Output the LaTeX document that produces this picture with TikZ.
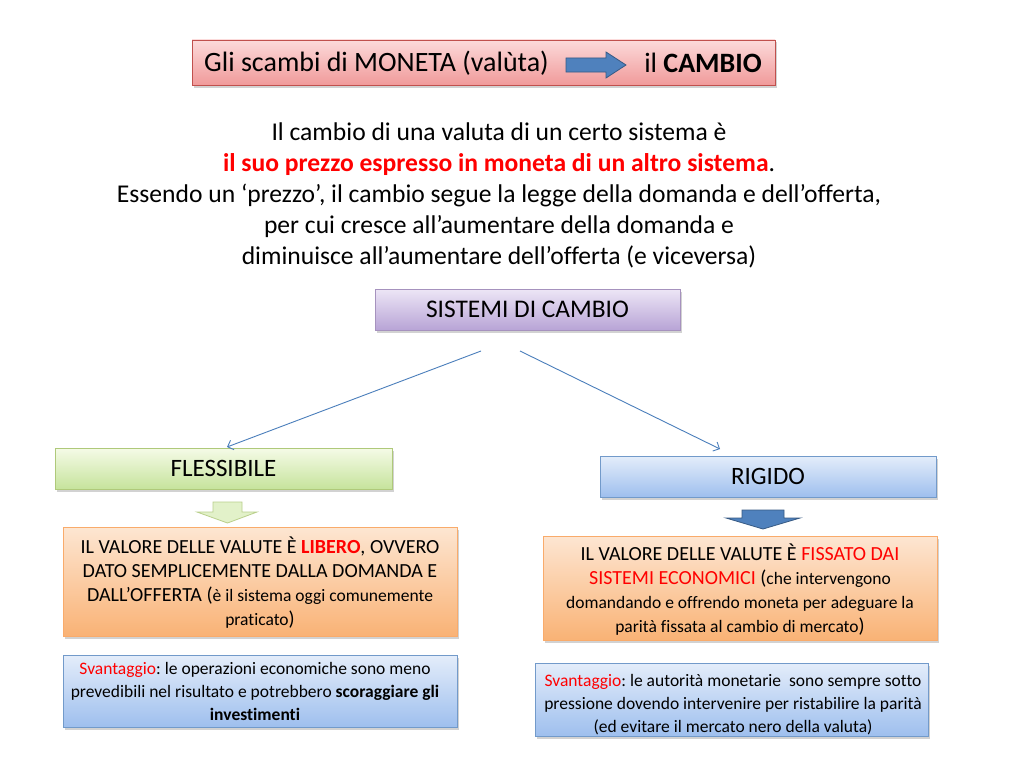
\documentclass[tikz,border=0pt]{standalone}
\usepackage{fontspec}
\setmainfont{Carlito}[Ligatures=NoCommon]
\frenchspacing
\usetikzlibrary{shadows,arrows.meta}
\definecolor{redtxt}{HTML}{FF0000}
\definecolor{pinkT}{HTML}{FCDADA}
\definecolor{pinkB}{HTML}{F09A9A}
\definecolor{pinkD}{HTML}{C0504D}
\definecolor{purT}{HTML}{EDE6F6}
\definecolor{purB}{HTML}{B8A4D6}
\definecolor{purD}{HTML}{8064A2}
\definecolor{grnT}{HTML}{F5FBE7}
\definecolor{grnB}{HTML}{C6E39C}
\definecolor{grnD}{HTML}{9BBB59}
\definecolor{bluT}{HTML}{E4EDFA}
\definecolor{bluB}{HTML}{9EBFEE}
\definecolor{bluD}{HTML}{4F81BD}
\definecolor{orgT}{HTML}{FDE6D2}
\definecolor{orgB}{HTML}{F9B275}
\definecolor{orgD}{HTML}{F79646}
\definecolor{lineC}{HTML}{4A7EBB}
\tikzset{
  box/.style={rectangle, draw, line width=0.8pt, inner sep=0pt, align=center,
    drop shadow={opacity=0.35, shadow xshift=1.5pt, shadow yshift=-2.5pt}},
  pinkbox/.style={box, draw=pinkD, top color=pinkT, bottom color=pinkB},
  purbox/.style={box, draw=purD!70, top color=purT, bottom color=purB},
  grnbox/.style={box, draw=grnD!80, top color=grnT, bottom color=grnB},
  blubox/.style={box, draw=bluD!80, top color=bluT, bottom color=bluB},
  orgbox/.style={box, draw=orgD!80, top color=orgT, bottom color=orgB},
  conn/.style={draw=lineC, line width=0.9pt, -{Straight Barb[length=5pt,width=10pt]}},
  txt/.style={inner sep=0pt, align=center},
}
\begin{document}
\begin{tikzpicture}[x=1pt,y=-1pt]
\useasboundingbox (0,0) rectangle (1024,768);
\fill[white] (0,0) rectangle (1024,768);

% title
\node[pinkbox, minimum width=583pt, minimum height=45pt] (title) at (483.5,62.5) {};
\node[txt, anchor=west, font=\fontsize{28}{32}\selectfont] (tl) at (204,63) {Gli scambi di MONETA (valùta)};
\node[txt, anchor=east, font=\fontsize{28}{32}\selectfont] (tr) at (762,63) {il \textbf{CAMBIO}};
\draw[fill=bluD, draw=bluD!70!black, line width=0.8pt]
  (566,58) -- (606,58) -- (606,52) -- (626,65) -- (606,78) -- (606,72) -- (566,72) -- cycle;

% paragraph
\node[txt, font=\fontsize{25.6}{31}\selectfont] (par) at (499,195) {Il cambio di una valuta di un certo sistema è\\
{\color{redtxt}\bfseries il suo prezzo espresso in moneta di un altro sistema}.\\
Essendo un ‘prezzo’, il cambio segue la legge della domanda e dell’offerta,\\
per cui cresce all’aumentare della domanda e\\
diminuisce all’aumentare dell’offerta (e viceversa)};

% sistemi
\node[purbox, minimum width=305pt, minimum height=41pt, font=\fontsize{25.4}{28}\selectfont] (sist) at (527.5,309.5) {SISTEMI DI CAMBIO};

% branches
\node[grnbox, minimum width=337pt, minimum height=41pt, font=\fontsize{25}{28}\selectfont] (flex) at (223.5,468.5) {FLESSIBILE};
\node[blubox, minimum width=336pt, minimum height=41pt, font=\fontsize{25}{28}\selectfont] (rig) at (768,476.5) {RIGIDO};

\coordinate (s1) at (481,351);
\coordinate (s2) at (520,351);
\coordinate (e1) at (227,447);
\coordinate (e2) at (720,449);
\draw[conn] (s1) -- (e1);
\draw[conn] (s2) -- (e2);

% block down arrows
\draw[fill=grnT!60!grnB, draw=grnD!70, line width=0.8pt]
  (213,502) -- (242,502) -- (242,512) -- (257,512) -- (227.5,523) -- (197,512) -- (213,512) -- cycle;
\draw[fill=bluD, draw=bluD!70!black, line width=0.8pt]
  (742,510) -- (784,510) -- (784,518) -- (800,518) -- (763,529) -- (726,518) -- (742,518) -- cycle;

% orange boxes
\node[orgbox, minimum width=394pt, minimum height=109pt] (oL) at (260,581.5) {};
\node[txt, font=\fontsize{20}{24}\selectfont] (oLt) at (260,583) {IL VALORE DELLE VALUTE È {\color{redtxt}\bfseries LIBERO}, OVVERO\\
DATO SEMPLICEMENTE DALLA DOMANDA E\\
DALL’OFFERTA ({\fontsize{17.5}{17}\selectfont è il sistema oggi comunemente}\\
{\fontsize{17.5}{17}\selectfont praticato})};

\node[orgbox, minimum width=394pt, minimum height=104pt] (oR) at (740,588) {};
\node[txt, font=\fontsize{20}{24}\selectfont] (oRt) at (740,590) {IL VALORE DELLE VALUTE È {\color{redtxt}FISSATO DAI}\\
{\color{redtxt}SISTEMI ECONOMICI} ({\fontsize{17.5}{17}\selectfont che intervengono}\\
{\fontsize{17.5}{17}\selectfont domandando e offrendo moneta per adeguare la}\\
{\fontsize{17.5}{17}\selectfont parità fissata al cambio di mercato})};

% svantaggi
\node[blubox, minimum width=394pt, minimum height=72pt] (svL) at (260,691) {};
\node[txt, font=\fontsize{17.5}{23}\selectfont] (svLt) at (255,691)
 {{\color{redtxt}Svantaggio}: le operazioni economiche sono meno\\
 prevedibili nel risultato e potrebbero \textbf{scoraggiare gli}\\
 \textbf{investimenti}};
\node[blubox, minimum width=393pt, minimum height=73pt] (svR) at (731.5,699.5) {};
\node[txt, font=\fontsize{17.5}{23}\selectfont] (svRt) at (733,705)
 {{\color{redtxt}Svantaggio}: le autorità monetarie\ \ sono sempre sotto\\
 pressione dovendo intervenire per ristabilire la parità\\
 (ed evitare il mercato nero della valuta)};
\end{tikzpicture}
\end{document}
